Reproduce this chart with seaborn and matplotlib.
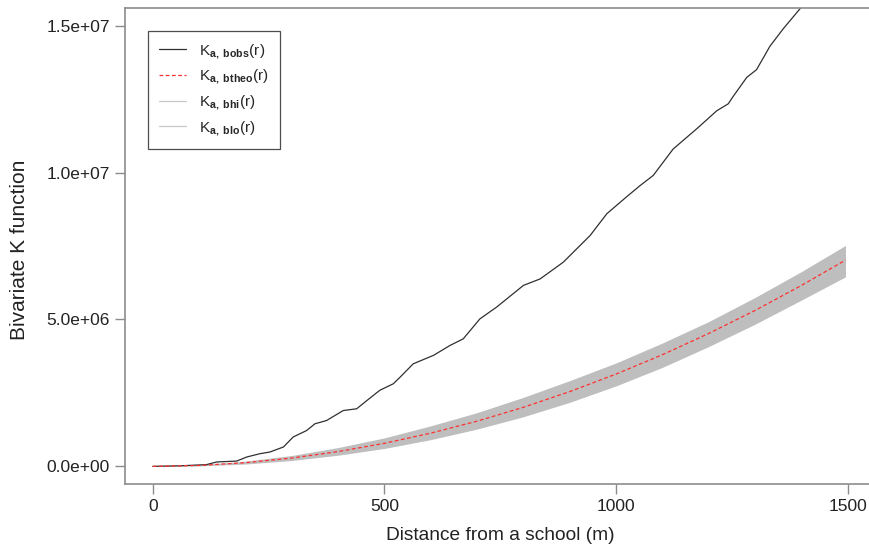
import numpy as np
import pandas as pd
import matplotlib
matplotlib.use("Agg")
import matplotlib.pyplot as plt
from matplotlib.lines import Line2D
import seaborn as sns

r_obs = [0, 60, 116, 138, 181, 203, 231, 253, 282, 303, 332, 350, 375, 411, 440, 462,
         490, 519, 534, 562, 606, 642, 670, 706, 742, 800, 836, 886, 944, 980, 1023,
         1052, 1080, 1123, 1174, 1217, 1242, 1253, 1282, 1303, 1332, 1361, 1395, 1450, 1495]
k_obs = [0, 0.02, 0.06, 0.15, 0.18, 0.32, 0.43, 0.49, 0.66, 1.00, 1.22, 1.45, 1.56, 1.90,
         1.96, 2.24, 2.59, 2.81, 3.04, 3.49, 3.78, 4.12, 4.34, 5.02, 5.42, 6.16, 6.38, 6.95,
         7.86, 8.60, 9.18, 9.56, 9.90, 10.80, 11.49, 12.10, 12.34, 12.60, 13.24, 13.50,
         14.30, 14.90, 15.54, 16.60, 17.60]

# Theoretical K and simulation envelope, units of 1e6
r_env = [0, 100, 200, 300, 400, 500, 600, 700, 800, 900, 1000, 1100, 1200, 1300, 1400, 1495]
k_theo = [0, 0.031, 0.126, 0.283, 0.503, 0.785, 1.131, 1.539, 2.011, 2.545, 3.142,
          3.801, 4.524, 5.309, 6.158, 7.02]
k_hi = [0, 0.05, 0.18, 0.37, 0.64, 0.97, 1.38, 1.83, 2.35, 2.92, 3.52, 4.20, 4.93,
        5.75, 6.63, 7.52]
k_lo = [0, 0.015, 0.08, 0.20, 0.38, 0.61, 0.91, 1.27, 1.69, 2.18, 2.74, 3.37, 4.08,
        4.84, 5.66, 6.45]

legend_labels = [r"$\mathrm{K}_{\mathbf{a,\ bobs}}\mathrm{(r)}$",
                 r"$\mathrm{K}_{\mathbf{a,\ btheo}}\mathrm{(r)}$",
                 r"$\mathrm{K}_{\mathbf{a,\ bhi}}\mathrm{(r)}$",
                 r"$\mathrm{K}_{\mathbf{a,\ blo}}\mathrm{(r)}$"]

sns.set_style("ticks")
plt.rcParams["font.family"] = ["Liberation Sans", "DejaVu Sans"]
plt.rcParams["mathtext.fontset"] = "custom"
plt.rcParams["mathtext.rm"] = "Liberation Sans"
plt.rcParams["mathtext.it"] = "Liberation Sans"
plt.rcParams["mathtext.bf"] = "Liberation Sans:bold"

fig = plt.figure(figsize=(8.69, 5.49), dpi=100)
ax = fig.add_axes([125 / 869, 1 - 484 / 549, 750.6 / 869, 476 / 549])

df_obs = pd.DataFrame({"r": r_obs, "K": np.array(k_obs) * 1e6})
df_env = pd.DataFrame({"r": r_env, "theo": np.array(k_theo) * 1e6,
                       "hi": np.array(k_hi) * 1e6, "lo": np.array(k_lo) * 1e6})

ax.fill_between(df_env["r"], df_env["lo"], df_env["hi"], color="#bebebe", linewidth=0, zorder=1)
sns.lineplot(data=df_env, x="r", y="theo", ax=ax, color="#ff3030", linewidth=0.9,
             linestyle=(0, (3, 2)), zorder=3)
sns.lineplot(data=df_obs, x="r", y="K", ax=ax, color="#303030", linewidth=0.9, zorder=2)

ax.set_xlim(-60, 1560)
ax.set_ylim(-0.6e6, 15.6e6)
ax.set_xticks([0, 500, 1000, 1500])
ax.set_xticklabels(["0", "500", "1000", "1500"])
ax.set_yticks([0, 5e6, 1e7, 1.5e7])
ax.set_yticklabels(["0.0e+00", "5.0e+06", "1.0e+07", "1.5e+07"])

for name, s in ax.spines.items():
    s.set_visible(name != "right")
    s.set_color("#8c8c8c")
    s.set_linewidth(1.2)
ax.tick_params(axis="both", direction="out", length=7, width=1.0, color="#8c8c8c",
               labelsize=12.5, labelcolor="#222222", pad=4)

ax.set_xlabel("Distance from a school (m)", fontsize=13.8, color="#222222", labelpad=9)
ax.set_ylabel("Bivariate K function", fontsize=15, color="#222222")
ax.yaxis.set_label_coords(-0.1275, 0.4916)

handles = [Line2D([], [], color="#303030", lw=0.9),
           Line2D([], [], color="#ff3030", lw=0.9, linestyle=(0, (3, 2))),
           Line2D([], [], color="#c8c8c8", lw=0.9),
           Line2D([], [], color="#c8c8c8", lw=0.9)]
leg = ax.legend(handles, legend_labels, loc="upper left", bbox_to_anchor=(0.03, 0.952),
                frameon=True, fancybox=False, edgecolor="#222222", fontsize=11,
                handlelength=1.75, labelspacing=0.48, borderpad=0.75, handletextpad=0.85,
                borderaxespad=0)
leg.get_frame().set_linewidth(0.9)

fig.savefig("out.png", dpi=100)
